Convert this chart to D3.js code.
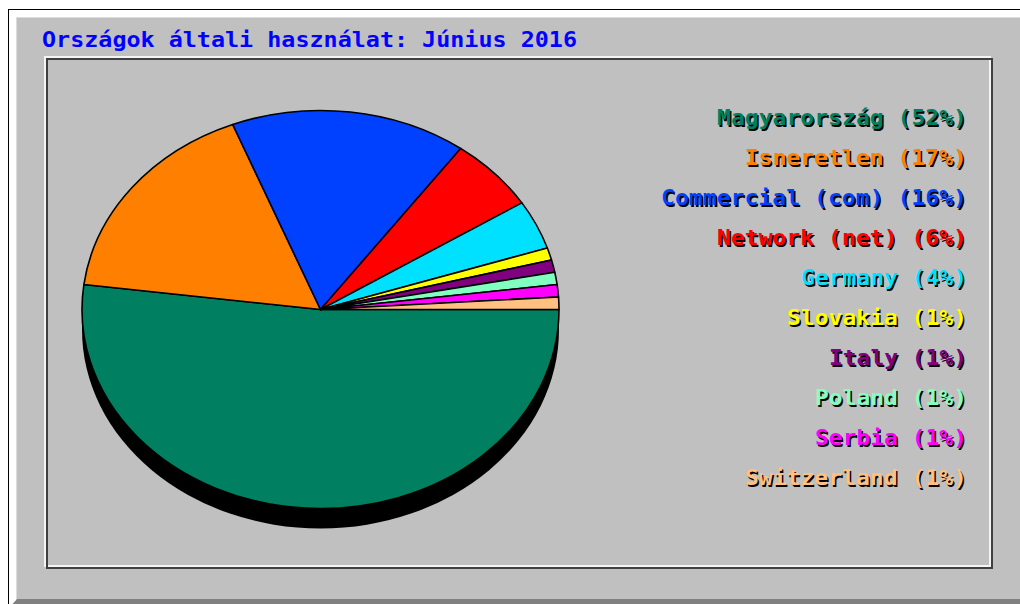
<!DOCTYPE html>
<html>
<head>
<meta charset="utf-8">
<script src="https://cdn.jsdelivr.net/npm/d3@7"></script>
<style>
  body { margin: 0; background: #fff; }
  svg { display: block; }
</style>
</head>
<body>
<svg id="chart" width="1020" height="604"></svg>
<script>
// data
const title = "Országok általi használat: Június 2016"
const countries = ["Magyarország", "Isneretlen", "Commercial (com)", "Network (net)", "Germany",
                   "Slovakia", "Italy", "Poland", "Serbia", "Switzerland"]
const shares = [52, 17, 16, 6, 4, 1, 1, 1, 1, 1]
const sliceColours = ["#008060", "#ff8000", "#0040ff", "#ff0000", "#00e0ff",
                      "#ffff00", "#800080", "#80ffc0", "#ff00ff", "#ffc080"]

const svg = d3.select("#chart")

/// frame: black line, white bevel, grey panel, dark bottom bevel
svg.append("rect")
  .attr("x", 8.5).attr("y", 9.5)
  .attr("width", 1100).attr("height", 700)
  .attr("fill", "#fff").attr("stroke", "#000").attr("stroke-width", 1)

svg.append("rect")
  .attr("x", 16).attr("y", 17)
  .attr("width", 1100).attr("height", 600)
  .attr("fill", "#dcdcdc")

svg.append("rect")
  .attr("x", 17).attr("y", 18)
  .attr("width", 1100).attr("height", 600)
  .attr("fill", "#c0c0c0")

svg.append("polygon")   // bottom shadow bevel
  .attr("points", "9,608 17,599 1100,599 1100,608")
  .attr("fill", "#808080")

/// inner box (white then dark, for the sunken look)
svg.append("rect")
  .attr("x", 45).attr("y", 57).attr("width", 945).attr("height", 509)
  .attr("fill", "none").attr("stroke", "#f4f4f4").attr("stroke-width", 2)
svg.append("rect")
  .attr("x", 47).attr("y", 59).attr("width", 945).attr("height", 509)
  .attr("fill", "none").attr("stroke", "#404040").attr("stroke-width", 2)

/// title
svg.append("text")
  .attr("x", 42).attr("y", 47)
  .attr("font-family", "DejaVu Sans Mono")
  .attr("font-weight", "bold")
  .attr("font-size", 22)
  .attr("textLength", 535)
  .attr("lengthAdjust", "spacingAndGlyphs")
  .attr("fill", "#0000ff")
  .text(title)

/// pie - webalizer style, squashed circle + black side
const cx = 320.5, cy = 309.5
const rx = 238.5, ry = 199
const depth = 20

const pieG = svg.append("g")

pieG.append("ellipse")     // the side of the disc
  .attr("cx", cx).attr("cy", cy + depth)
  .attr("rx", rx).attr("ry", ry)
  .attr("fill", "#000")
pieG.append("rect")
  .attr("x", cx - rx).attr("y", cy)
  .attr("width", rx * 2).attr("height", depth)
  .attr("fill", "#000")

const pie = d3.pie()
  .sort(null)
  .startAngle(Math.PI / 2)
  .endAngle(Math.PI / 2 + 2 * Math.PI)

const arc = d3.arc().innerRadius(0).outerRadius(ry)

pieG.append("g")
  .attr("transform", "translate(" + cx + "," + cy + ") scale(" + (rx / ry) + ",1)")
  .selectAll("path")
  .data(pie(shares))
  .enter()
  .append("path")
    .attr("d", arc)
    .attr("fill", (d, i) => sliceColours[i])
    .attr("stroke", "#000")
    .attr("stroke-width", 1.6)
    .attr("stroke-linejoin", "round")
    .attr("vector-effect", "non-scaling-stroke")

/// legend, right aligned, with black drop shadow
const charW = 14
const legendRight = 968
const legendTop = 125, legendStep = 40

const legendText = countries.map((c, i) => c + " (" + shares[i] + "%)")

const leg = svg.selectAll(".leg")
  .data(legendText)
  .enter()
  .append("g")
  .attr("class", "leg")

function addLabel(sel, dx, fill) {
  sel.append("text")
    .attr("x", d => legendRight - d.length * charW + 1 + dx)
    .attr("y", (d, i) => legendTop + i * legendStep + dx)
    .attr("font-family", "DejaVu Sans Mono")
    .attr("font-weight", "bold")
    .attr("font-size", 21)
    .attr("textLength", d => d.length * charW - 2)
    .attr("lengthAdjust", "spacingAndGlyphs")
    .attr("fill", fill)
    .text(d => d)
}
addLabel(leg, 1.5, "#000")
addLabel(leg, 0, (d, i) => sliceColours[i])
</script>
</body>
</html>
